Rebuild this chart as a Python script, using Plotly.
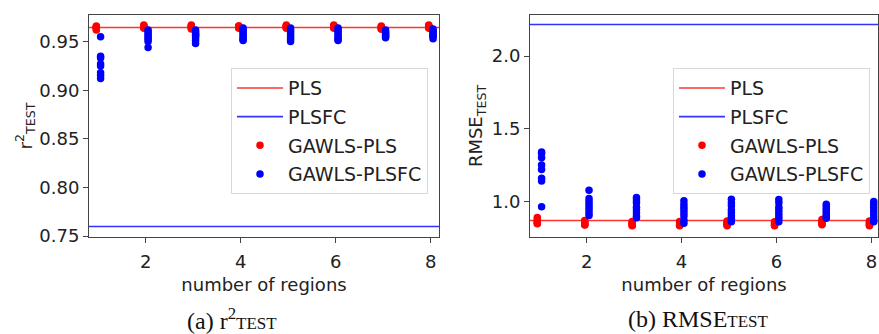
import plotly.graph_objects as go

regions = [1, 2, 3, 4, 5, 6, 7, 8]

# r2 TEST
r2_pls = 0.9644
r2_plsfc = 0.7600
r2_gawls_pls = [
    [0.966, 0.965, 0.964, 0.963, 0.962, 0.965],
    [0.967, 0.966, 0.965, 0.964, 0.964, 0.966],
    [0.967, 0.966, 0.965, 0.964, 0.963, 0.966],
    [0.966, 0.966, 0.965, 0.964, 0.964, 0.965],
    [0.967, 0.966, 0.965, 0.964, 0.964, 0.966],
    [0.967, 0.966, 0.965, 0.964, 0.964, 0.966],
    [0.966, 0.965, 0.964, 0.963, 0.963, 0.965],
    [0.967, 0.966, 0.965, 0.964, 0.964, 0.966],
]
r2_gawls_plsfc = [
    [0.955, 0.935, 0.933, 0.927, 0.925, 0.918, 0.915, 0.912],
    [0.962, 0.960, 0.958, 0.956, 0.954, 0.952, 0.950, 0.944],
    [0.962, 0.960, 0.958, 0.956, 0.954, 0.951, 0.948, 0.957],
    [0.964, 0.962, 0.960, 0.958, 0.956, 0.954, 0.952, 0.951],
    [0.964, 0.962, 0.960, 0.958, 0.956, 0.954, 0.952, 0.950],
    [0.964, 0.962, 0.960, 0.958, 0.956, 0.954, 0.952, 0.951],
    [0.962, 0.960, 0.958, 0.957, 0.956, 0.955, 0.954, 0.959],
    [0.963, 0.961, 0.959, 0.957, 0.956, 0.955, 0.953, 0.960],
]

# RMSE TEST
rmse_pls = 0.869
rmse_plsfc = 2.218
rmse_gawls_pls = [
    [0.89, 0.875, 0.865, 0.86, 0.85, 0.847],
    [0.868, 0.86, 0.852, 0.845, 0.84, 0.837],
    [0.862, 0.855, 0.848, 0.84, 0.835, 0.832],
    [0.862, 0.855, 0.848, 0.84, 0.835, 0.832],
    [0.865, 0.857, 0.85, 0.842, 0.836, 0.832],
    [0.86, 0.853, 0.846, 0.84, 0.835, 0.832],
    [0.875, 0.865, 0.858, 0.85, 0.845, 0.84],
    [0.865, 0.857, 0.85, 0.842, 0.836, 0.832],
]
rmse_gawls_plsfc = [
    [1.34, 1.33, 1.30, 1.25, 1.22, 1.16, 1.14, 0.964],
    [1.076, 1.02, 1.0, 0.98, 0.96, 0.94, 0.92, 0.903],
    [1.027, 1.01, 0.99, 0.96, 0.94, 0.92, 0.90, 0.888],
    [1.004, 0.98, 0.96, 0.94, 0.92, 0.90, 0.87, 0.85],
    [1.015, 0.99, 0.97, 0.94, 0.92, 0.90, 0.88, 0.86],
    [1.013, 0.99, 0.96, 0.94, 0.92, 0.90, 0.88, 0.86],
    [0.98, 0.965, 0.95, 0.935, 0.92, 0.905, 0.895, 0.884],
    [1.0, 0.98, 0.96, 0.94, 0.92, 0.90, 0.88, 0.86],
]

legend_names = ["PLS", "PLSFC", "GAWLS-PLS", "GAWLS-PLSFC"]
RED = "#ff0000"
BLUE = "#0000ff"
FONT = "DejaVu Sans"
FS = 18

fig = go.Figure()


def expand(groups, offset):
    xs, ys = [], []
    for r, vals in zip(regions, groups):
        for v in vals:
            xs.append(r + offset)
            ys.append(v)
    return xs, ys


def add_panel(xa, ya, legend, pls, plsfc, gp, gpf):
    xline = [regions[0] - 1, regions[-1] + 1]
    fig.add_trace(go.Scatter(x=xline, y=[pls, pls], mode="lines", name=legend_names[0],
                             line=dict(color=RED, width=1.6), opacity=0.8, legendgroup="a",
                             xaxis=xa, yaxis=ya, legend=legend))
    fig.add_trace(go.Scatter(x=xline, y=[plsfc, plsfc], mode="lines", name=legend_names[1],
                             line=dict(color=BLUE, width=1.6), opacity=0.8, legendgroup="b",
                             xaxis=xa, yaxis=ya, legend=legend))
    x, y = expand(gp, -0.04)
    fig.add_trace(go.Scatter(x=x, y=y, mode="markers", name=legend_names[2], legendgroup="c",
                             marker=dict(color=RED, size=7.5, line=dict(width=0)),
                             xaxis=xa, yaxis=ya, legend=legend))
    x, y = expand(gpf, 0.05)
    fig.add_trace(go.Scatter(x=x, y=y, mode="markers", name=legend_names[3], legendgroup="d",
                             marker=dict(color=BLUE, size=7.5, line=dict(width=0)),
                             xaxis=xa, yaxis=ya, legend=legend))


add_panel("x", "y", "legend", r2_pls, r2_plsfc, r2_gawls_pls, r2_gawls_plsfc)
add_panel("x2", "y2", "legend2", rmse_pls, rmse_plsfc, rmse_gawls_pls, rmse_gawls_plsfc)

axis_common = dict(showline=True, linecolor="#444", linewidth=1, mirror=True,
                   ticks="outside", ticklen=5, tickcolor="#444", showgrid=False,
                   zeroline=False, tickfont=dict(family=FONT, size=FS, color="#222"))
title_font = dict(family=FONT, size=FS, color="#222")

ydom = [1 - 244 / 334, 1 - 15 / 334]
legend_common = dict(bgcolor="rgba(255,255,255,0.8)", bordercolor="#d8d8d8", borderwidth=1,
                     font=dict(family=FONT, size=19, color="#222"),
                     xanchor="left", yanchor="top", tracegroupgap=1,
                     itemwidth=46)

fig.update_layout(
    width=879, height=334,
    margin=dict(l=0, r=0, t=0, b=0),
    paper_bgcolor="white", plot_bgcolor="white",
    showlegend=True,
    xaxis=dict(domain=[89 / 879, 439 / 879], range=[0.806, 8.175], anchor="y",
               tickvals=[2, 4, 6, 8], ticklabelstandoff=3,
               title=dict(text="number of regions", font=title_font, standoff=7), **axis_common),
    yaxis=dict(domain=ydom, range=[0.7487, 0.9777], anchor="x",
               tickvals=[0.75, 0.80, 0.85, 0.90, 0.95], tickformat=".2f",
               title=dict(text="r<sup>2</sup><sub>TEST</sub>", font=title_font, standoff=2),
               **axis_common),
    xaxis2=dict(domain=[530 / 879, 878 / 879], range=[0.806, 8.14], anchor="y2",
                tickvals=[2, 4, 6, 8], ticklabelstandoff=3,
                title=dict(text="number of regions", font=title_font, standoff=7), **axis_common),
    yaxis2=dict(domain=ydom, range=[0.752, 2.286], anchor="x2",
                tickvals=[1.0, 1.5, 2.0], tickformat=".1f",
                title=dict(text="RMSE<sub>TEST</sub>", font=title_font, standoff=4),
                **axis_common),
    legend=dict(x=231 / 879, y=1 - 70 / 334, **legend_common),
    legend2=dict(x=673 / 879, y=1 - 70 / 334, **legend_common),
)

cap_font = dict(family="Liberation Serif", size=24, color="#111")
fig.add_annotation(text="(a) r<sup>2</sup><span style='font-size:17px'>TEST</span>",
                   xref="paper", yref="paper", x=232 / 879, y=1 - 328 / 334,
                   showarrow=False, font=cap_font, xanchor="center", yanchor="middle")
fig.add_annotation(text="(b) RMSE<span style='font-size:17px'>TEST</span>",
                   xref="paper", yref="paper", x=698 / 879, y=1 - 328 / 334,
                   showarrow=False, font=cap_font, xanchor="center", yanchor="middle")

fig.write_html("out.html")
